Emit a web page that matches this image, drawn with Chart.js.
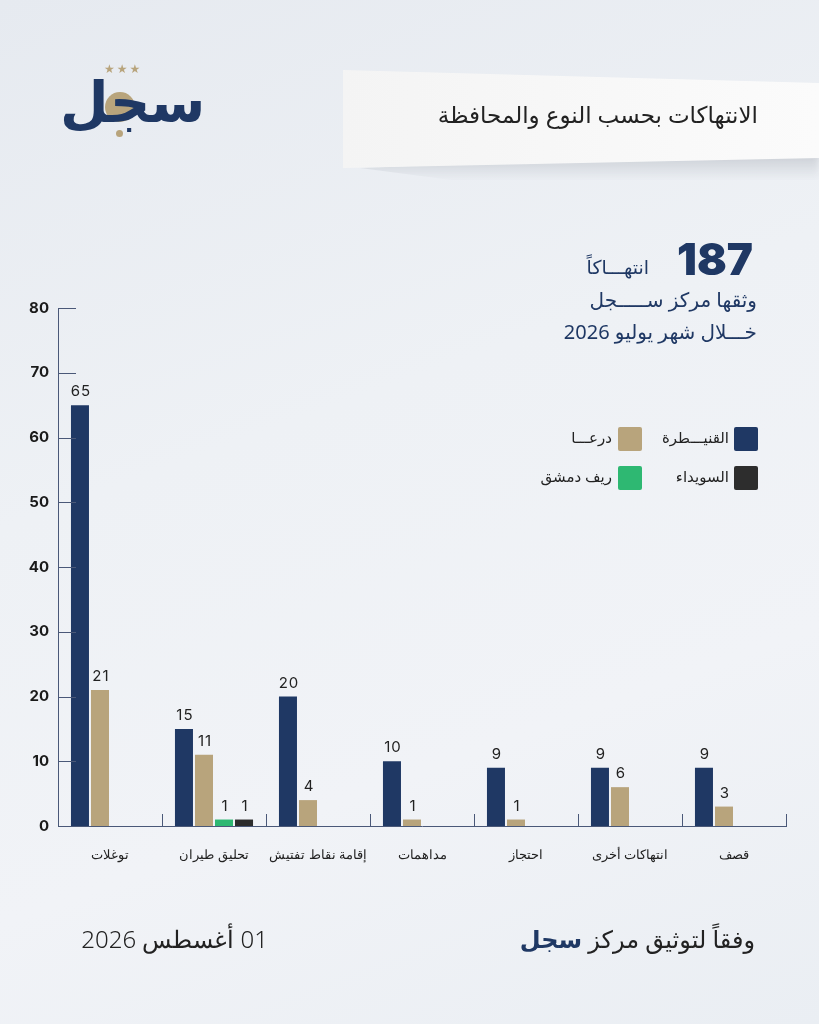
<!DOCTYPE html>
<html lang="ar">
<head>
<meta charset="utf-8">
<script src="https://cdn.jsdelivr.net/npm/chart.js@4"></script>
<style>
    html, body { margin: 0; padding: 0; }
    body {
        width: 819px; height: 1024px; overflow: hidden; position: relative;
        background: linear-gradient(160deg, #e6eaf0 0%, #eef1f5 40%, #f1f3f7 70%, #eaeef3 100%);
        font-family: "Noto Sans", "DejaVu Sans", sans-serif;
    }
    #chart { position: absolute; left: 0; top: 0; }
    .abs { position: absolute; white-space: nowrap; }
    .rtl { direction: rtl; text-align: right; }
    #banner {
        position: absolute; left: 343px; top: 70px; width: 476px; height: 100px;
        background: linear-gradient(90deg, #f4f4f4, #fbfbfb);
        clip-path: polygon(0 0, 100% 13px, 100% 88px, 0 98px);
    }
    #bannerShadow {
        position: absolute; left: 360px; top: 150px; width: 459px; height: 30px;
        background: linear-gradient(180deg, rgba(150,155,165,0.45), rgba(200,205,212,0));
        clip-path: polygon(0 18px, 100% 0, 100% 100%, 20% 100%);
        filter: blur(3px);
    }
    .legSq { position: absolute; width: 24px; height: 24px; border-radius: 2px; }
    .legTx { position: absolute; font-size: 15px; color: #222; direction: rtl; text-align: right; width: 120px; }
</style>
</head>
<body>
<canvas id="chart" width="819" height="1024"></canvas>

<!-- logo -->
<div class="abs" style="left:104px; top:60px; color:#b8a47c; font-size:12px; letter-spacing:2px;">★★★</div>
<div class="abs" style="left:105px; top:92px; width:30px; height:30px; border-radius:50%; background:#b8a47c;"></div>
<div class="abs" style="left:116px; top:130px; width:7px; height:7px; border-radius:50%; background:#b8a47c;"></div>
<div class="abs" style="left:60px; top:62px; color:#1f3864; font-size:56px; font-weight:bold; direction:rtl;">سجل</div>

<div id="bannerShadow"></div>
<div id="banner"></div>
<div class="abs rtl" style="right:61px; top:98px; font-size:23px; color:#222;">الانتهاكات بحسب النوع والمحافظة</div>

<div class="abs" style="right:66px; top:232px; font-size:44px; font-weight:900; color:#1f3864; font-family:Inter, 'Noto Sans', sans-serif;">187</div>
<div class="abs rtl" style="right:170px; top:254px; font-size:19px; color:#1f3864;">انتهـــاكاً</div>
<div class="abs rtl" style="right:62px; top:286px; font-size:20px; color:#1f3864;">وثقها مركز ســـــجل</div>
<div class="abs rtl" style="right:62px; top:318px; font-size:20px; color:#1f3864;">خـــلال شهر يوليو 2026</div>

<div class="legSq" style="left:734px; top:427px; background:#1f3864;"></div>
<div class="legTx" style="left:609px; top:427px;">القنيـــطرة</div>
<div class="legSq" style="left:618px; top:427px; background:#b8a47c;"></div>
<div class="legTx" style="left:492px; top:427px;">درعـــا</div>
<div class="legSq" style="left:734px; top:466px; background:#2d2d2d;"></div>
<div class="legTx" style="left:609px; top:466px;">السويداء</div>
<div class="legSq" style="left:618px; top:466px; background:#2eb872;"></div>
<div class="legTx" style="left:492px; top:466px;">ريف دمشق</div>

<div class="abs rtl" style="right:64px; top:922px; font-size:24px; color:#222;">وفقاً لتوثيق مركز <b style="color:#1f3864;">سجل</b></div>
<div class="abs rtl" style="right:551px; top:922px; font-size:24px; color:#222; font-weight:300;">01 أغسطس 2026</div>

<script>
const categories = ["توغلات", "تحليق طيران", "إقامة نقاط تفتيش", "مداهمات", "احتجاز", "انتهاكات أخرى", "قصف"];
const quneitra = [65, 15, 20, 10, 9, 9, 9];
const daraa = [21, 11, 4, 1, 1, 6, 3];
const rifDimashq = [0, 1, 0, 0, 0, 0, 0];
const sweida = [0, 1, 0, 0, 0, 0, 0];
const yTicks = [0, 10, 20, 30, 40, 50, 60, 70, 80];

const axisColor = "#4a5878";

// short tick marks pointing into the plot + value labels
const decorations = {
    id: "decorations",
    afterDatasetsDraw(chart) {
        const ctx = chart.ctx;
        const x = chart.scales.x, y = chart.scales.y;
        ctx.save();
        ctx.strokeStyle = axisColor;
        ctx.lineWidth = 1;
        yTicks.forEach((v) => {
            if (v === 0) return;
            const py = Math.round(y.getPixelForValue(v)) + 0.5;
            ctx.beginPath();
            ctx.moveTo(x.left, py);
            ctx.lineTo(x.left + 18, py);
            ctx.stroke();
        });
        const step = (x.right - x.left) / categories.length;
        for (let i = 1; i <= categories.length; i++) {
            const px = Math.round(x.left + i * step) + 0.5;
            ctx.beginPath();
            ctx.moveTo(px, y.bottom);
            ctx.lineTo(px, y.bottom - 12);
            ctx.stroke();
        }

        ctx.fillStyle = "#222";
        ctx.font = "15px Inter, 'Noto Sans', sans-serif";
        ctx.letterSpacing = "1px";
        ctx.textAlign = "center";
        ctx.textBaseline = "bottom";
        chart.data.datasets.forEach((ds, di) => {
            const meta = chart.getDatasetMeta(di);
            meta.data.forEach((bar, i) => {
                const v = ds.data[i];
                if (!v) return;
                ctx.fillText(String(v), bar.x + 1, bar.y - 6);
            });
        });
        ctx.restore();
    },
};

new Chart(document.getElementById("chart"), {
    type: "bar",
    data: {
        labels: categories,
        datasets: [
            { label: "القنيطرة", data: quneitra, backgroundColor: "#1f3864" },
            { label: "درعا", data: daraa, backgroundColor: "#b8a47c" },
            { label: "ريف دمشق", data: rifDimashq, backgroundColor: "#2eb872" },
            { label: "السويداء", data: sweida, backgroundColor: "#2d2d2d" },
        ],
    },
    options: {
        responsive: false,
        animation: false,
        categoryPercentage: 0.77,
        barPercentage: 0.9,
        layout: { padding: { top: 308, right: 33, bottom: 148, left: 0 } },
        plugins: { legend: { display: false }, tooltip: { enabled: false } },
        scales: {
            x: {
                grid: { display: false, drawTicks: false },
                border: { display: true, color: axisColor, width: 1 },
                ticks: { color: "#222", font: { size: 13 }, padding: 22, maxRotation: 0, autoSkip: false },
                afterFit: (s) => { s.height = 50; },
            },
            y: {
                min: 0,
                max: 80,
                grid: { display: false, drawTicks: false },
                border: { display: true, color: axisColor, width: 1 },
                ticks: {
                    stepSize: 10,
                    color: "#1a1a1a",
                    padding: 9,
                    font: { size: 15, weight: "bold", family: "Inter, 'Noto Sans', sans-serif" },
                },
                afterFit: (s) => { s.width = 58; },
            },
        },
    },
    plugins: [decorations],
});
</script>
</body>
</html>
